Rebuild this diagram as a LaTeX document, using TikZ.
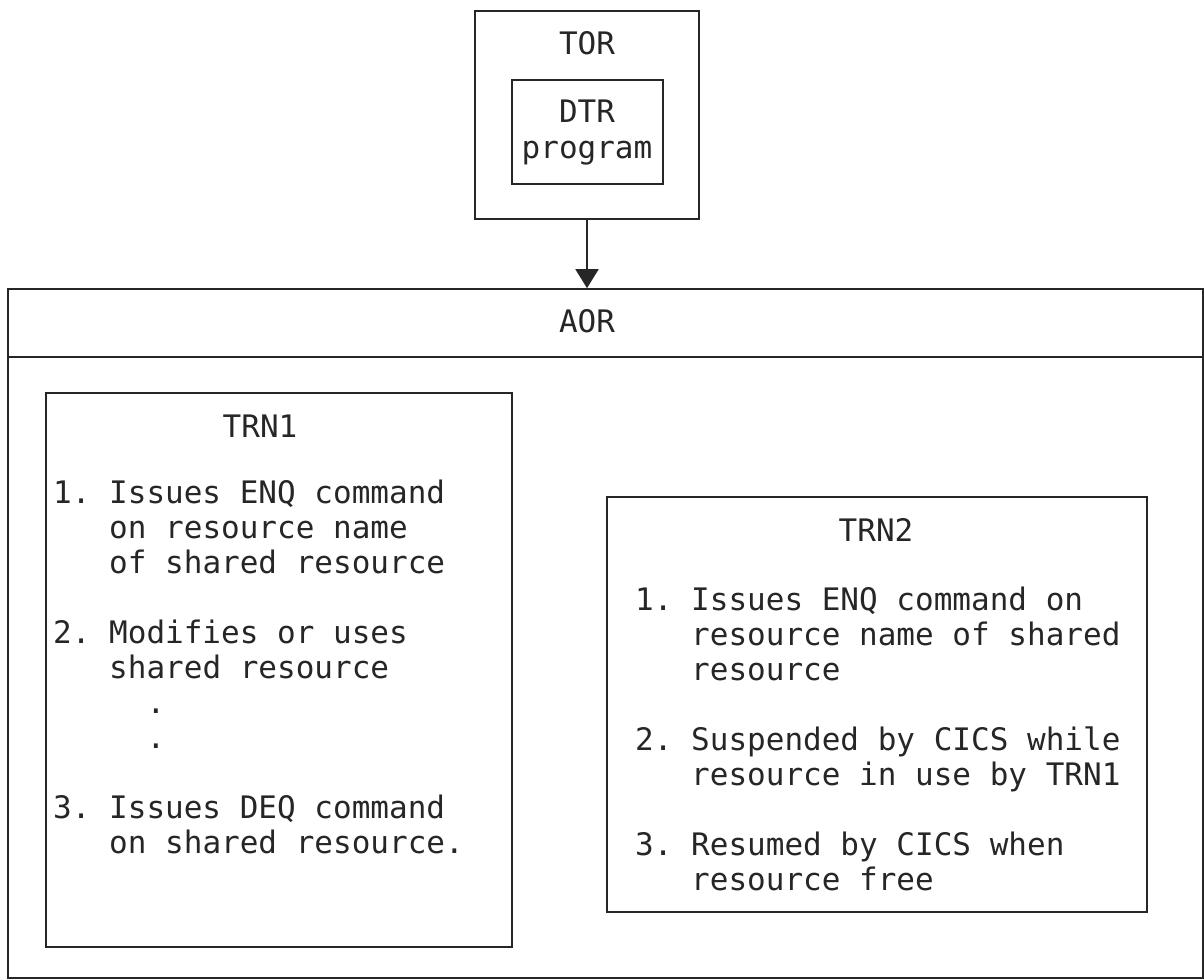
\documentclass[tikz,border=0pt]{standalone}
\usepackage{fontspec}
\newfontfamily\diagmono{DejaVu Sans Mono}
\usetikzlibrary{arrows.meta,positioning}
\tikzset{
  regbox/.style={draw=black!85, line width=1.6pt, inner sep=0pt},
  monotxt/.style={font=\diagmono\fontsize{31}{35}\selectfont\frenchspacing, text=black!85, inner sep=0pt},
  flowarr/.style={-{Triangle[width=23pt,length=19pt]}, line width=1.6pt, draw=black!85}
}
\newcommand{\ind}{\hphantom{000}}

\begin{document}
\begin{tikzpicture}[x=1pt,y=-1pt]
\useasboundingbox (0,0) rectangle (1204,979);
% regions
\node[regbox, minimum width=224pt, minimum height=208pt] (tor) at (587,115) {};
\node[regbox, minimum width=151pt, minimum height=104pt] (dtr) at (587.5,132) {};
\node[regbox, minimum width=1195pt, minimum height=68pt] (aorhead) at (605.5,323) {};
\node[regbox, minimum width=1195pt, minimum height=621pt] (aorbody) at (605.5,667.5) {};
\node[regbox, minimum width=466pt, minimum height=554pt] (trn1) at (279,670) {};
\node[regbox, minimum width=540pt, minimum height=415pt] (trn2) at (877,704.5) {};
% titles
\node[monotxt, anchor=base] (torlbl) at (587,55) {TOR};
\node[monotxt, anchor=base] (dtrlbl) at (587,123) {DTR};
\node[monotxt, anchor=base] (proglbl) at (587,158) {program};
\node[monotxt, anchor=base] (aorlbl) at (587,332) {AOR};
\node[monotxt, anchor=base] (trn1lbl) at (260,437) {TRN1};
\node[monotxt, anchor=base] (trn2lbl) at (876,541) {TRN2};
% step lists
\foreach \yy/\txt [count=\i] in {
  503/{1. Issues ENQ command},
  538/{\ind on resource name},
  573/{\ind of shared resource},
  643/{2. Modifies or uses},
  678/{\ind shared resource},
  713/{\ind\hphantom{00}.},
  748/{\ind\hphantom{00}.},
  818/{3. Issues DEQ command},
  853/{\ind on shared resource.}}
  \node[monotxt, anchor=base west] (trna-\i) at (53,\yy) {\txt};
\foreach \yy/\txt [count=\i] in {
  610/{1. Issues ENQ command on},
  645/{\ind resource name of shared},
  680/{\ind resource},
  750/{2. Suspended by CICS while},
  785/{\ind resource in use by TRN1},
  855/{3. Resumed by CICS when},
  890/{\ind resource free}}
  \node[monotxt, anchor=base west] (trnb-\i) at (635,\yy) {\txt};
% routing
\draw[flowarr] (tor.south) -- (tor.south |- aorhead.north);
\end{tikzpicture}
\end{document}
